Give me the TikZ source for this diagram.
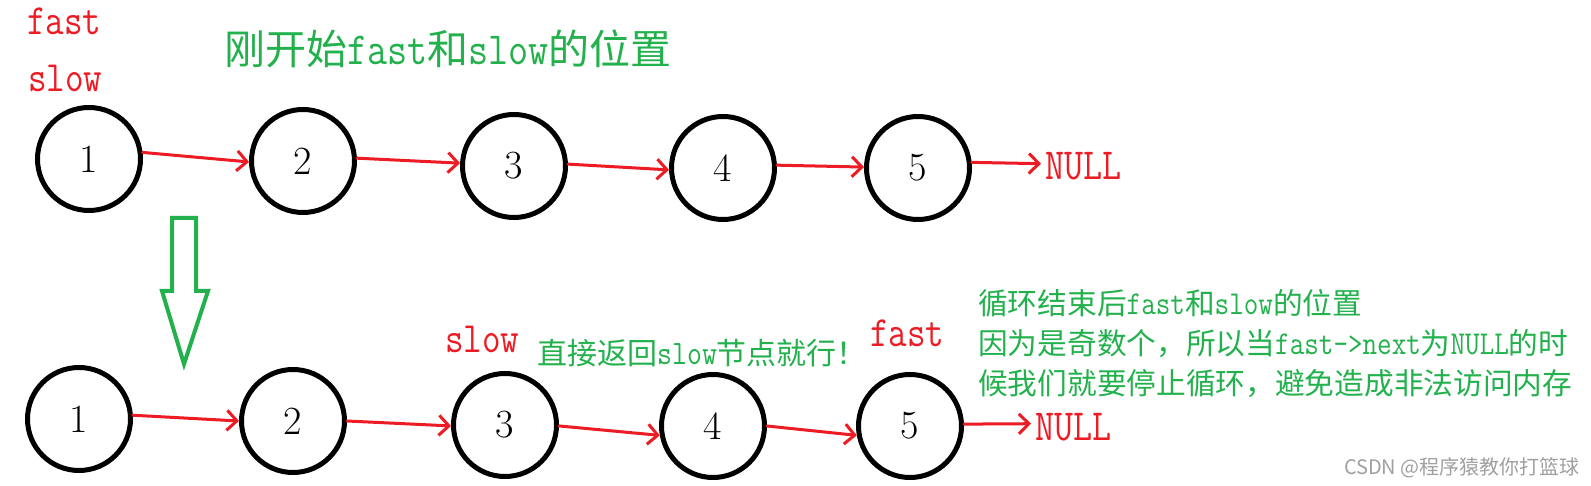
\documentclass[tikz,border=0pt]{standalone}
\usepackage{graphicx}
\usepackage{fontspec}
\newfontfamily\cjk{Noto Sans CJK SC}
\usetikzlibrary{arrows.meta}
\definecolor{pred}{HTML}{ED1C24}
\definecolor{pgreen}{HTML}{22B14C}
\definecolor{wgray}{HTML}{A0A0A0}
\newcommand\mylat[2]{\scalebox{1}[1.18]{\ttfamily\fontsize{#1}{#1}\selectfont #2}}
\newcommand\mytall[1]{\scalebox{1}[1.2]{#1}}
\newcommand\myzh[1]{\cjk\fontsize{#1}{#1}\selectfont}
\newcommand\mytt[1]{\ttfamily\fontsize{#1}{#1}\selectfont}
\begin{document}
\begin{tikzpicture}[x=1pt,y=-1pt,
  listnode/.style={circle,draw=black,line width=5pt,minimum size=103pt,inner sep=0pt,font=\fontsize{40}{40}\selectfont},
  link/.style={draw=pred,line width=3pt,line cap=round,line join=round,-{Straight Barb[length=10pt,width=20pt]}},
  redlbl/.style={text=pred,inner sep=0pt,anchor=base west},
  greenlbl/.style={text=pgreen,inner sep=0pt,anchor=base west},
]
\useasboundingbox[fill=white] (0,0) rectangle (1591,486);

% top row
\node[listnode] (t1) at (89,159) {1};
\node[listnode] (t2) at (303,161) {2};
\node[listnode] (t3) at (514,166) {3};
\node[listnode] (t4) at (723,168) {4};
\node[listnode] (t5) at (918,168) {5};
\node[redlbl,font=\mytt{37}] (tnull) at (1045,180) {\mytall{NULL}};

\draw[link] (t1.7) -- (t2.181);
\draw[link] (t2.3) -- (t3.177);
\draw[link] (t3.2) -- (t4.182);
\draw[link] (t4.3) -- (t5.179);
\draw[link] (t5.6) -- ([xshift=-4pt,yshift=3pt]tnull.west);

\node[redlbl,font=\mytt{36}] (tfast) at (27,35) {\mytall{fast}};
\node[redlbl,font=\mytt{36}] (tslow) at (28,92) {\mytall{slow}};
\node[greenlbl,font=\myzh{41}] (title) at (224,65) {刚开始\mylat{39}{fast}和\mylat{39}{slow}的位置};

% big green arrow
\draw[pgreen,line width=4pt,line join=miter]
  (172,218) -- (196,218) -- (196,291) -- (208,291) -- (184,364) -- (162,291) -- (172,291) -- cycle;

% bottom row
\node[listnode] (b1) at (79,419) {1};
\node[listnode] (b2) at (293,421) {2};
\node[listnode] (b3) at (505,425) {3};
\node[listnode] (b4) at (713,426) {4};
\node[listnode] (b5) at (910,426) {5};
\node[redlbl,font=\mytt{37}] (bnull) at (1035,440) {\mytall{NULL}};

\draw[link] (b1.4) -- (b2.180);
\draw[link] (b2.0) -- (b3.181);
\draw[link] (b3.359) -- (b4.190);
\draw[link] (b4.0) -- (b5.190);
\draw[link] (b5.2) -- ([xshift=-4pt,yshift=3pt]bnull.west);

\node[redlbl,font=\mytt{36}] (bslow) at (445,353) {\mytall{slow}};
\node[redlbl,font=\mytt{36}] (bfast) at (870,347) {\mytall{fast}};
\node[greenlbl,font=\myzh{30}] (ret) at (537,365) {直接返回\mylat{29}{slow}节点就行！};

\node[greenlbl,font=\myzh{29.7}] (l1) at (978,315) {循环结束后\mylat{28.3}{fast}和\mylat{28.3}{slow}的位置};
\node[greenlbl,font=\myzh{29.7}] (l2) at (978,355) {因为是奇数个，所以当\mylat{28.3}{fast->next}为\mylat{28.3}{NULL}的时};
\node[greenlbl,font=\myzh{29.7}] (l3) at (978,395) {候我们就要停止循环，避免造成非法访问内存};

\node[text=wgray,inner sep=0pt,anchor=base east,font=\myzh{20}] (wm) at (1580,474) {CSDN @程序猿教你打篮球};
\end{tikzpicture}
\end{document}
